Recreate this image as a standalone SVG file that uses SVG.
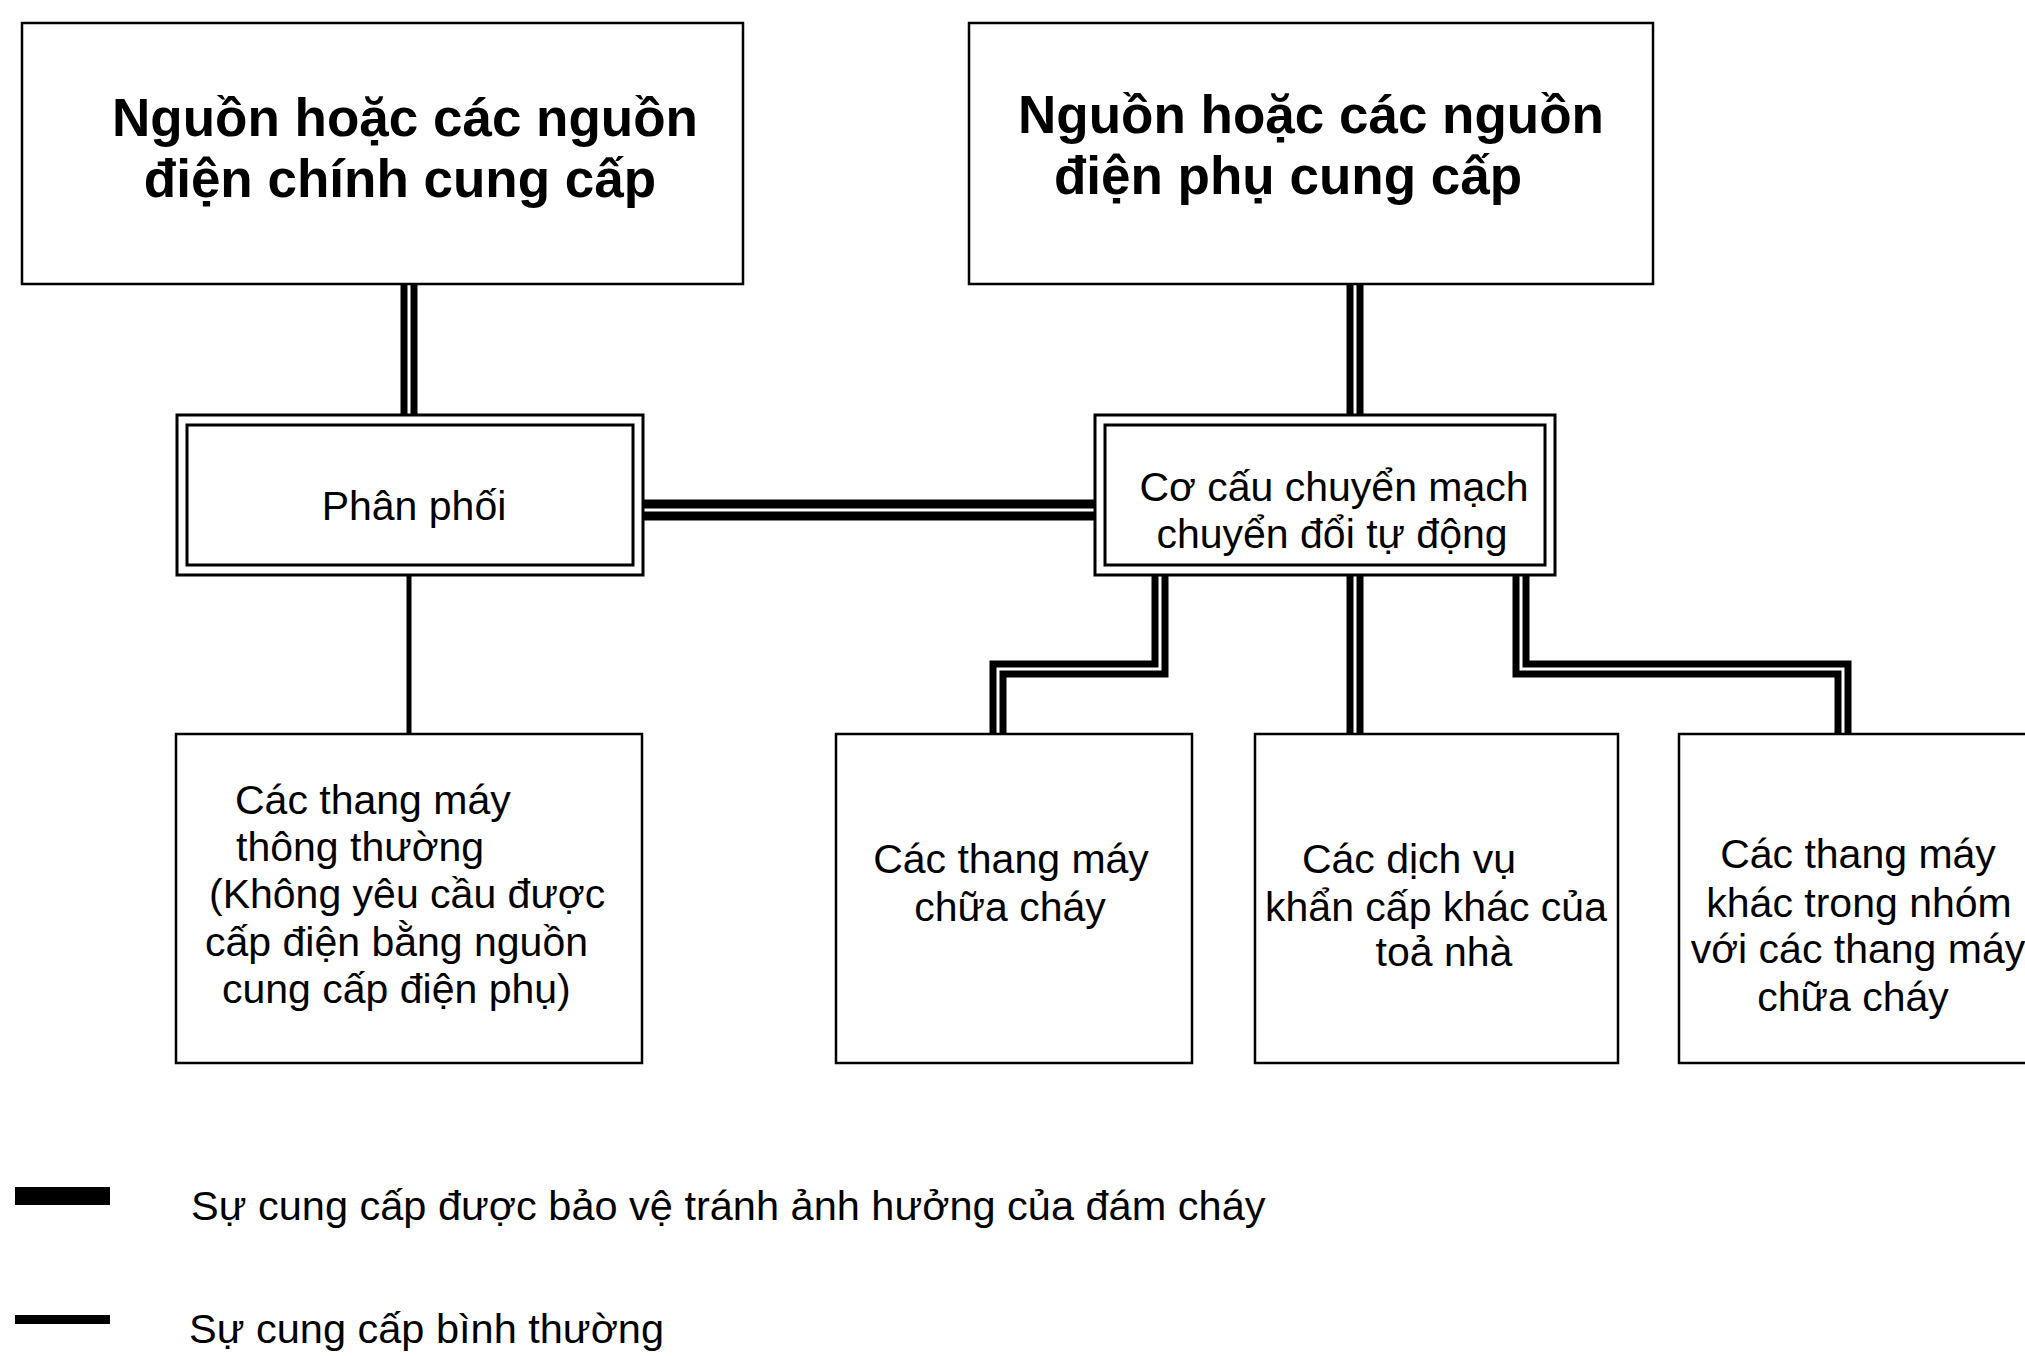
<svg xmlns="http://www.w3.org/2000/svg" width="2025" height="1356" viewBox="0 0 2025 1356">
<style>
text{font-family:"Liberation Sans",Arial,sans-serif;fill:#000}
.title{font-size:53px;font-weight:bold;text-anchor:middle}
.lbl{font-size:41px}
.leg{font-size:41.5px}
.mid{text-anchor:middle}
.box{fill:#fff;stroke:#000;stroke-width:2.5}
.dbl{fill:#fff;stroke:#000;stroke-width:3}
.prot{fill:none;stroke:#000;stroke-width:17;stroke-linejoin:miter}
.gap{fill:none;stroke:#fff;stroke-width:3;stroke-linejoin:miter}
.normal{fill:none;stroke:#000;stroke-width:5}
</style>
<rect width="2025" height="1356" fill="#fff"/>
<g id="connectors">
  <path class="prot" d="M409 284V415"/>
  <path class="gap" d="M409 284V415"/>
  <path class="prot" d="M1355 284V415"/>
  <path class="gap" d="M1355 284V415"/>
  <path class="prot" style="stroke-width:21" d="M643 510H1095"/>
  <path class="gap" d="M643 510H1095"/>
  <path class="prot" d="M1160 575V669H998V734"/>
  <path class="gap" d="M1160 575V669H998V734"/>
  <path class="prot" d="M1355 575V734"/>
  <path class="gap" d="M1355 575V734"/>
  <path class="prot" d="M1521 575V669H1843V734"/>
  <path class="gap" d="M1521 575V669H1843V734"/>
  <path class="normal" d="M409 575V734"/>
</g>
<g id="main-supply">
  <rect class="box" x="22" y="23" width="721" height="261"/>
  <text class="title" x="405" y="136">Nguồn hoặc các nguồn</text>
  <text class="title" x="400" y="197">điện chính cung cấp</text>
</g>
<g id="aux-supply">
  <rect class="box" x="969" y="23" width="684" height="261"/>
  <text class="title" x="1311" y="133">Nguồn hoặc các nguồn</text>
  <text class="title" x="1288" y="194">điện phụ cung cấp</text>
</g>
<g id="distribution">
  <rect class="dbl" x="177" y="415" width="466" height="160"/>
  <rect class="dbl" x="187" y="425" width="446" height="140"/>
  <text class="lbl mid" x="414" y="520">Phân phối</text>
</g>
<g id="switch">
  <rect class="dbl" x="1095" y="415" width="460" height="160"/>
  <rect class="dbl" x="1105" y="425" width="440" height="140"/>
  <text class="lbl mid" x="1334" y="501">Cơ cấu chuyển mạch</text>
  <text class="lbl mid" x="1332" y="548">chuyển đổi tự động</text>
</g>
<g id="normal-lifts">
  <rect class="box" x="176" y="734" width="466" height="329"/>
  <text class="lbl" x="235" y="814">Các thang máy</text>
  <text class="lbl" x="236" y="861">thông thường</text>
  <text class="lbl" x="209" y="908">(Không yêu cầu được</text>
  <text class="lbl" x="205" y="956">cấp điện bằng nguồn</text>
  <text class="lbl" x="222" y="1003">cung cấp điện phụ)</text>
</g>
<g id="fire-lifts">
  <rect class="box" x="836" y="734" width="356" height="329"/>
  <text class="lbl mid" x="1011" y="873">Các thang máy</text>
  <text class="lbl mid" x="1010" y="921">chữa cháy</text>
</g>
<g id="other-services">
  <rect class="box" x="1255" y="734" width="363" height="329"/>
  <text class="lbl mid" x="1409" y="873">Các dịch vụ</text>
  <text class="lbl mid" x="1436" y="921">khẩn cấp khác của</text>
  <text class="lbl mid" x="1444" y="966">toả nhà</text>
</g>
<g id="group-lifts">
  <rect class="box" x="1679" y="734" width="360" height="329"/>
  <text class="lbl mid" x="1858" y="868">Các thang máy</text>
  <text class="lbl mid" x="1859" y="917">khác trong nhóm</text>
  <text class="lbl mid" x="1858" y="963">với các thang máy</text>
  <text class="lbl mid" x="1853" y="1011">chữa cháy</text>
</g>
<g id="legend">
  <rect x="15" y="1187" width="95" height="18" fill="#000"/>
  <text class="leg" x="191" y="1220">Sự cung cấp được bảo vệ tránh ảnh hưởng của đám cháy</text>
  <rect x="15" y="1315" width="95" height="9" fill="#000"/>
  <text class="leg" x="189" y="1343">Sự cung cấp bình thường</text>
</g>
</svg>
